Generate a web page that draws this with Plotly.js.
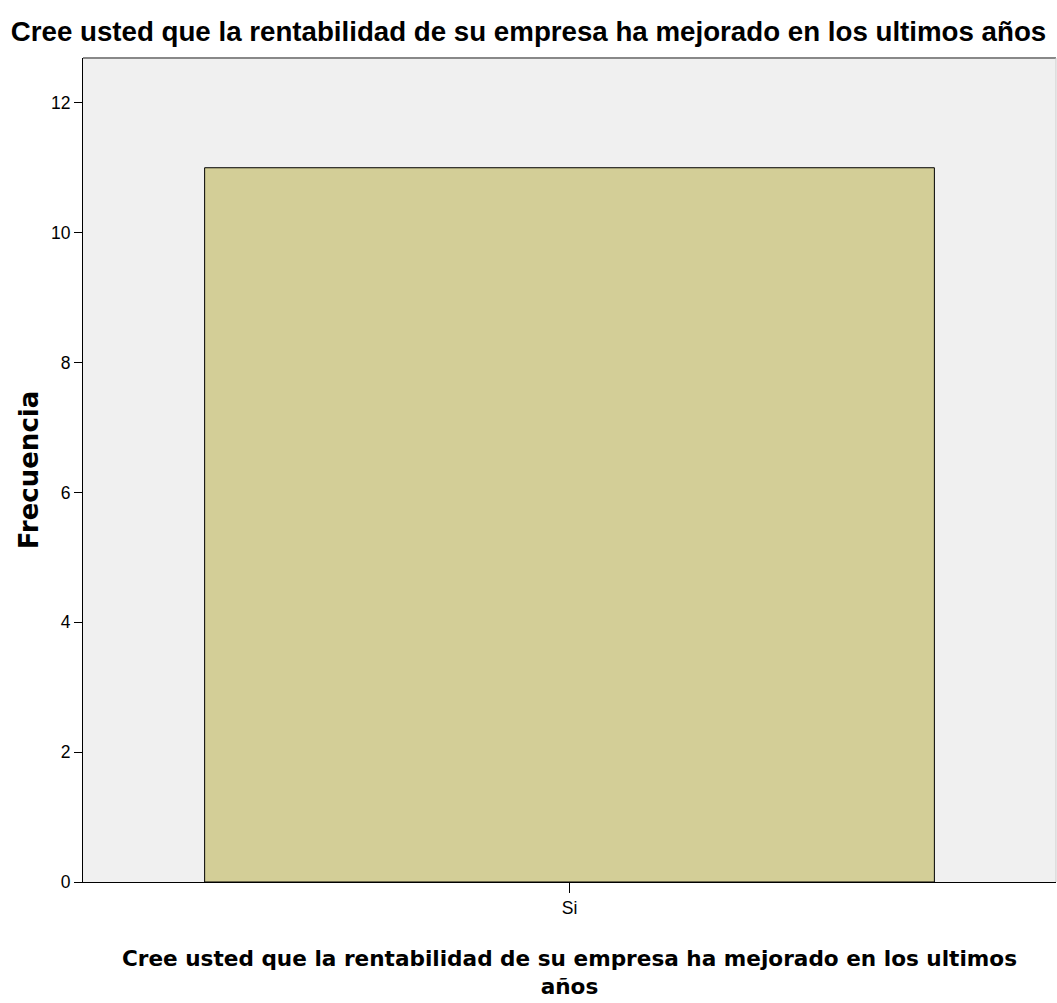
<!DOCTYPE html>
<html>
<head>
<meta charset="utf-8">
<script src="https://cdn.plot.ly/plotly-3.0.1.min.js"></script>
<style>html,body{margin:0;padding:0;background:#fff;}#chart{width:1057px;height:1003px;}</style>
</head>
<body>
<div id="chart"></div>
<script>
const categories = ["Si"];
const frecuencia = [11];
const yTicks = [0, 2, 4, 6, 8, 10, 12];
const chartTitle = "Cree usted que la rentabilidad de su empresa ha mejorado en los ultimos años";
const xTitle = "Cree usted que la rentabilidad de su empresa ha mejorado en los ultimos<br>años";
const yTitle = "Frecuencia";

const trace = {
  type: "bar",
  x: categories,
  y: frecuencia,
  width: 0.75,
  marker: {color: "#d3ce97", line: {color: "#000", width: 1}},
  hoverinfo: "x+y"
};

const tickFont = {family: "Liberation Sans, Arial, sans-serif", size: 17.5, color: "#000"};

const layout = {
  width: 1057, height: 1003,
  margin: {l: 83, r: 1, t: 58, b: 121},
  paper_bgcolor: "#ffffff",
  plot_bgcolor: "#f0f0f0",
  showlegend: false,
  bargap: 0.25,
  title: {
    text: chartTitle,
    font: {family: "Liberation Sans, Arial, sans-serif", size: 27.7, color: "#000", weight: "bold"},
    x: 0.5, xanchor: "center", y: 0.969, yanchor: "middle"
  },
  xaxis: {
    type: "category",
    range: [-0.5, 0.5],
    showline: true, linecolor: "#000", linewidth: 1,
    ticks: "outside", ticklen: 10, tickcolor: "#000", tickwidth: 1,
    showgrid: false, zeroline: false,
    tickfont: tickFont,
    title: {
      text: xTitle,
      font: {family: "DejaVu Sans, Verdana, sans-serif", size: 21.6, color: "#000", weight: "bold"},
      standoff: 33
    }
  },
  yaxis: {
    range: [0, 12.69],
    tickvals: yTicks,
    ticktext: yTicks.map(String),
    showline: true, linecolor: "#000", linewidth: 1,
    ticks: "outside", ticklen: 8, tickcolor: "#000", tickwidth: 1,
    showgrid: false, zeroline: false,
    tickfont: tickFont,
    title: {
      text: yTitle,
      font: {family: "DejaVu Sans, Verdana, sans-serif", size: 26, color: "#000", weight: "bold"},
      standoff: 4
    }
  },
  shapes: [
    {type: "line", xref: "paper", yref: "paper", x0: 0, x1: 1, y0: 1, y1: 1, line: {color: "#888", width: 2}},
    {type: "line", xref: "paper", yref: "paper", x0: 1, x1: 1, y0: 0, y1: 1, line: {color: "#ccc", width: 1}}
  ]
};

Plotly.newPlot("chart", [trace], layout, {displayModeBar: false});
</script>
</body>
</html>
